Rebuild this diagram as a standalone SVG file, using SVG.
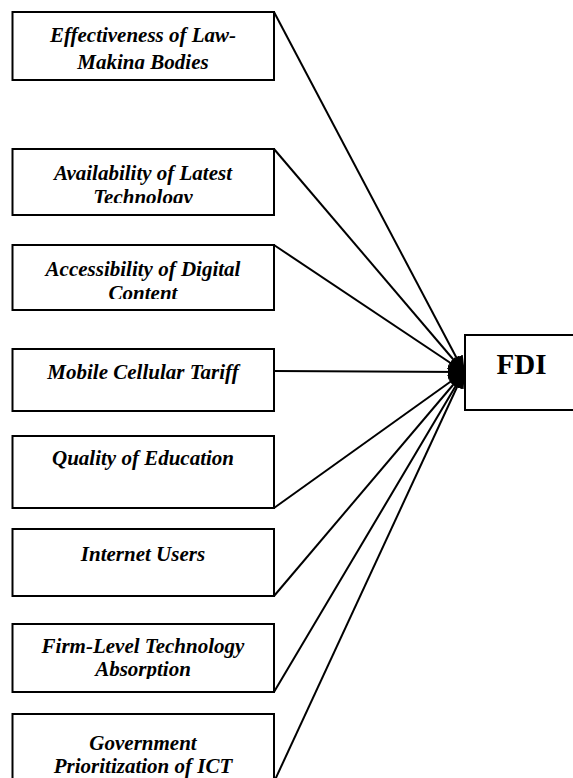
<svg xmlns="http://www.w3.org/2000/svg" width="573" height="778" viewBox="0 0 573 778">
  <style>
    .box { fill: #ffffff; stroke: #000000; stroke-width: 2; }
    .lbl { font-family: "Liberation Serif", "Times New Roman", serif; font-size: 21px; font-weight: bold; font-style: italic; fill: #000000; text-anchor: middle; }
    .fdi { font-family: "Liberation Serif", "Times New Roman", serif; font-size: 29px; font-weight: bold; fill: #000000; text-anchor: middle; }
    .link { stroke: #000000; stroke-width: 2; fill: none; marker-end: url(#head); }
  </style>
  <defs>
    <marker id="head" markerUnits="userSpaceOnUse" markerWidth="18" markerHeight="14" refX="16" refY="7" orient="auto">
      <path d="M0,0 L18,7 L0,14 z" fill="#000000"/>
    </marker>
    <!-- text areas: labels are cut off a little above each box's bottom edge -->
    <clipPath id="c1"><rect x="13" y="13" width="260" height="56"/></clipPath>
    <clipPath id="c2"><rect x="13" y="150" width="260" height="53"/></clipPath>
    <clipPath id="c3"><rect x="13" y="246" width="260" height="53"/></clipPath>
    <clipPath id="c7"><rect x="13" y="625" width="260" height="54"/></clipPath>
  </defs>

  <!-- connectors: every factor feeds into FDI -->
  <g id="connectors">
    <line class="link" x1="274" y1="12" x2="464" y2="372"/>
    <line class="link" x1="274" y1="149" x2="464" y2="372"/>
    <line class="link" x1="274" y1="245" x2="464" y2="372"/>
    <line class="link" x1="274" y1="371" x2="464" y2="372"/>
    <line class="link" x1="274" y1="508" x2="464" y2="372"/>
    <line class="link" x1="274" y1="596" x2="464" y2="372"/>
    <line class="link" x1="274" y1="692" x2="464" y2="372"/>
    <line class="link" x1="274" y1="782" x2="464" y2="372"/>
  </g>

  <g id="law-making">
    <rect class="box" x="12.5" y="12" width="261.5" height="68"/>
    <g clip-path="url(#c1)">
      <text class="lbl" x="143" y="42">Effectiveness of Law-</text>
      <text class="lbl" x="143" y="69">Making Bodies</text>
    </g>
  </g>

  <g id="latest-technology">
    <rect class="box" x="12.5" y="149" width="261.5" height="66"/>
    <g clip-path="url(#c2)">
      <text class="lbl" x="143" y="180">Availability of Latest</text>
      <text class="lbl" x="143" y="204">Technology</text>
    </g>
  </g>

  <g id="digital-content">
    <rect class="box" x="12.5" y="245" width="261.5" height="65"/>
    <g clip-path="url(#c3)">
      <text class="lbl" x="143" y="276">Accessibility of Digital</text>
      <text class="lbl" x="143" y="300">Content</text>
    </g>
  </g>

  <g id="mobile-tariff">
    <rect class="box" x="12.5" y="349" width="261.5" height="62"/>
    <text class="lbl" x="143" y="379">Mobile Cellular Tariff</text>
  </g>

  <g id="education">
    <rect class="box" x="12.5" y="436" width="261.5" height="72"/>
    <text class="lbl" x="143" y="465">Quality of Education</text>
  </g>

  <g id="internet-users">
    <rect class="box" x="12.5" y="529" width="261.5" height="67"/>
    <text class="lbl" x="143" y="561">Internet Users</text>
  </g>

  <g id="firm-absorption">
    <rect class="box" x="12.5" y="624" width="261.5" height="68"/>
    <g clip-path="url(#c7)">
      <text class="lbl" x="143" y="653">Firm-Level Technology</text>
      <text class="lbl" x="143" y="676">Absorption</text>
    </g>
  </g>

  <g id="government-ict">
    <rect class="box" x="12.5" y="714" width="261.5" height="72"/>
    <text class="lbl" x="143" y="750">Government</text>
    <text class="lbl" x="143" y="773">Prioritization of ICT</text>
  </g>

  <g id="fdi">
    <rect class="box" x="465" y="335" width="114" height="75"/>
    <text class="fdi" x="521.5" y="374">FDI</text>
  </g>
</svg>
